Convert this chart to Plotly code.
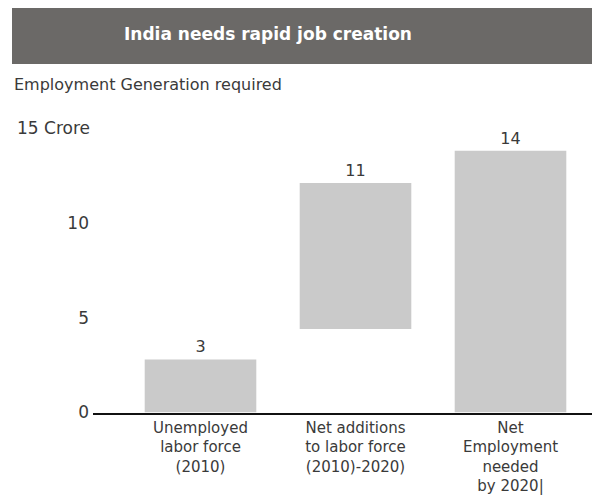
import plotly.graph_objects as go

# ---- data ----
categories = ["Unemployed<br>labor force<br>(2010)",
              "Net additions<br>to labor force<br>(2010)-2020)",
              "Net<br>Employment<br>needed<br>by 2020|"]
bar_bottom = [0, 4.4, 0]
bar_top = [2.8, 12.1, 13.8]
value_labels = ["3", "11", "14"]
y_tickvals = [0, 5, 10]
y_ticktext = ["0", "5", "10"]

W, H = 592, 497
FONT = "DejaVu Sans"
TXT = "#3a3a3a"

heights = [t - b for t, b in zip(bar_top, bar_bottom)]

fig = go.Figure()
fig.add_trace(go.Bar(
    x=list(range(len(categories))),
    y=heights,
    base=bar_bottom,
    width=0.72,
    marker=dict(color="#cacaca", line=dict(width=0)),
    text=value_labels,
    textposition="outside",
    textfont=dict(family=FONT, size=16, color=TXT),
    cliponaxis=False,
    hoverinfo="skip",
))

def px(x):
    return x / W

def py(y):
    return 1 - y / H

x0_px, x1_px = 93, 592
y0_px, y1_px = 412.5, 128
step = 155.0
c0 = 200.5
xr = [-(c0 - x0_px) / step, (x1_px - c0) / step]

fig.update_layout(
    width=W, height=H,
    margin=dict(l=0, r=0, t=0, b=0),
    paper_bgcolor="white", plot_bgcolor="white",
    showlegend=False,
    xaxis=dict(
        domain=[px(x0_px), px(x1_px)],
        range=xr,
        tickvals=list(range(len(categories))),
        ticktext=categories,
        showline=True, linecolor="#111111", linewidth=2,
        showgrid=False, zeroline=False, ticks="",
        tickfont=dict(family=FONT, size=15, color=TXT),
        automargin=False, fixedrange=True,
    ),
    yaxis=dict(
        domain=[py(y0_px), py(y1_px)],
        range=[0, 15],
        tickvals=y_tickvals, ticktext=y_ticktext,
        showline=False, showgrid=False, zeroline=False, ticks="",
        tickfont=dict(family=FONT, size=17, color=TXT),
        ticklabelstandoff=3,
        automargin=False, fixedrange=True,
    ),
    shapes=[dict(type="rect", xref="paper", yref="paper",
                 x0=px(12), x1=px(592), y0=py(64), y1=py(8),
                 fillcolor="#6b6967", line=dict(width=0), layer="below")],
    annotations=[
        dict(text="<b>India needs rapid job creation</b>", xref="paper", yref="paper",
             x=px(268), y=py(34), xanchor="center", yanchor="middle", showarrow=False,
             font=dict(family=FONT, size=17, color="white")),
        dict(text="Employment Generation required", xref="paper", yref="paper",
             x=px(12), y=py(84), xanchor="left", yanchor="middle", showarrow=False,
             font=dict(family=FONT, size=16, color=TXT)),
        dict(text="15 Crore", xref="paper", yref="paper",
             x=px(15), y=py(128), xanchor="left", yanchor="middle", showarrow=False,
             font=dict(family=FONT, size=17, color=TXT)),
    ],
)

fig.write_html("out.html")
